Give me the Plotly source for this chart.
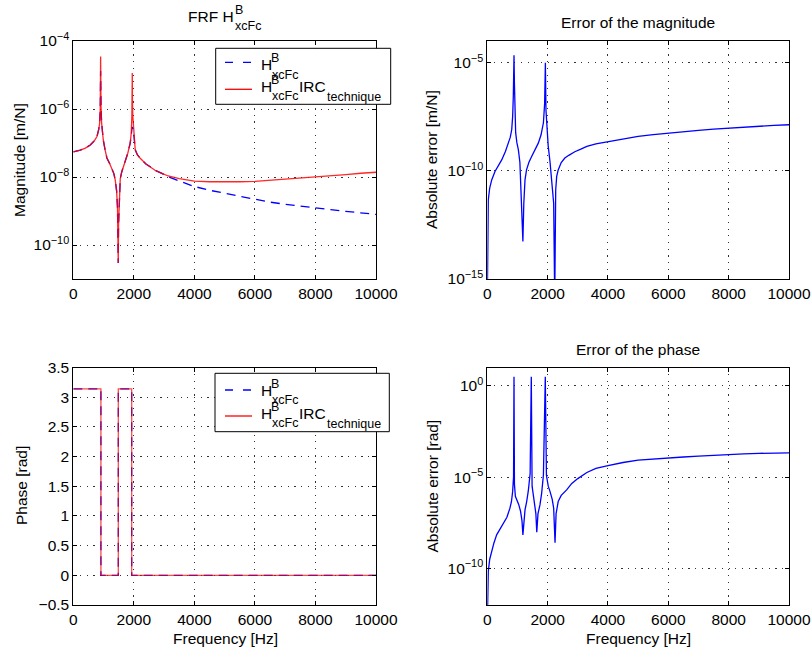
import plotly.graph_objects as go

W, H = 812, 649
FONT = "Liberation Sans, Arial, Helvetica, sans-serif"
BLUE = "#0000ff"
RED = "#ff0000"

# ---------------------------------------------------------------- data
# FRF magnitude of the full model H^B_xcFc [m/N]
freq_ref = [0, 231, 400, 561, 700, 782, 840, 870, 890, 903, 915, 935, 960,
            990, 1050, 1110, 1200, 1276, 1340, 1386, 1430, 1460, 1475, 1485,
            1495, 1510, 1530, 1551, 1600, 1716, 1800, 1881, 1915, 1935, 1947,
            1960, 2000, 2046, 2120, 2211, 2400, 2541, 2700, 2871, 3135, 3500,
            4000, 4500, 5000, 5500, 6000, 6500, 7000, 7500, 8000, 8500, 9000,
            9500, 10000]
mag_ref = [5.50e-8, 6.17e-8, 7.08e-8, 8.71e-8, 1.17e-7, 1.55e-7, 2.51e-7,
           3.80e-7, 1.0e-6, 1.3e-5, 1.26e-6, 3.98e-7, 2.24e-7, 1.23e-7,
           6.31e-8, 3.63e-8, 2.51e-8, 1.82e-8, 1.26e-8, 8.13e-9, 3.98e-9,
           1.26e-9, 3.98e-10, 2.95e-11, 3.98e-10, 1.26e-9, 3.98e-9, 8.9e-9,
           1.41e-8, 2.82e-8, 5.01e-8, 1.0e-7, 2.0e-7, 2.5e-7, 3.0e-7, 2.5e-7,
           1.78e-7, 6.31e-8, 4.47e-8, 3.55e-8, 2.40e-8, 2.0e-8, 1.58e-8,
           1.35e-8, 1.02e-8, 7.59e-9, 5.25e-9, 4.07e-9, 3.31e-9, 2.63e-9,
           2.14e-9, 1.82e-9, 1.58e-9, 1.38e-9, 1.23e-9, 1.10e-9, 9.77e-10,
           8.71e-10, 7.94e-10]

# FRF magnitude of the reduced model (IRC technique) [m/N]
freq_irc = [0, 231, 400, 561, 700, 782, 840, 870, 890, 903, 915, 935, 960,
            990, 1050, 1110, 1200, 1276, 1340, 1386, 1430, 1460, 1475, 1485,
            1495, 1510, 1530, 1551, 1600, 1716, 1800, 1881, 1915, 1935, 1942,
            1948, 1955, 1965, 1980, 2000, 2046, 2120, 2211, 2400, 2541, 2700,
            2871, 3135, 3500, 4000, 4500, 5000, 5500, 6000, 6500, 7000, 7500,
            8000, 8500, 9000, 9500, 10000]
mag_irc = [5.50e-8, 6.17e-8, 7.08e-8, 8.71e-8, 1.17e-7, 1.55e-7, 2.51e-7,
           3.80e-7, 1.0e-6, 3.5e-5, 1.26e-6, 3.98e-7, 2.24e-7, 1.23e-7,
           6.31e-8, 3.63e-8, 2.51e-8, 1.82e-8, 1.26e-8, 8.13e-9, 3.98e-9,
           1.26e-9, 3.98e-10, 2.95e-11, 3.98e-10, 1.26e-9, 3.98e-9, 8.9e-9,
           1.41e-8, 2.82e-8, 5.01e-8, 1.0e-7, 2.0e-7, 6.3e-7, 1.6e-6,
           1.15e-5, 1.6e-6, 6.3e-7, 3.55e-7, 1.78e-7, 6.31e-8, 4.47e-8,
           3.55e-8, 2.40e-8, 2.0e-8, 1.58e-8, 1.35e-8, 1.07e-8, 8.91e-9,
           7.59e-9, 7.24e-9, 7.08e-9, 7.24e-9, 7.41e-9, 7.94e-9, 8.51e-9,
           9.33e-9, 1.0e-8, 1.10e-8, 1.17e-8, 1.29e-8, 1.38e-8]

# Absolute error of the magnitude [m/N]
freq_err_mag = [0, 15, 33, 80, 146, 255, 370, 477, 600, 696, 760, 809, 840,
                862, 885, 900, 920, 940, 980, 1030, 1080, 1117, 1150, 1180,
                1210, 1250, 1300, 1380, 1470, 1580, 1690, 1780, 1860, 1900,
                1925, 1945, 1980, 2020, 2080, 2130, 2200, 2235, 2267, 2300,
                2350, 2450, 2570, 2700, 2900, 3100, 3300, 3600, 4020, 4500,
                5000, 5500, 6000, 6500, 7000, 7500, 8000, 8500, 9000, 9500,
                10000]
err_mag = [1e-16, 3.2e-13, 4.6e-12, 1.6e-11, 3.8e-11, 9.3e-11, 1.78e-10,
           3.2e-10, 7.9e-10, 1.9e-9, 3.5e-9, 7.9e-9, 3.2e-8, 2.8e-7, 2.2e-5,
           1.0e-6, 9.5e-8, 5.8e-9, 2.0e-9, 9.3e-10, 2.5e-10, 1.3e-11, 1.6e-12,
           5.4e-14, 3.2e-12, 3.8e-11, 1.1e-10, 2.5e-10, 4.6e-10, 8.9e-10,
           1.9e-9, 4.5e-9, 1.66e-8, 1.26e-7, 1.0e-5, 6.3e-8, 5.0e-9, 1.35e-9,
           2.5e-10, 3.8e-11, 3.2e-12, 1e-16, 1.3e-11, 5.5e-11, 1.1e-10,
           2.4e-10, 3.9e-10, 5.2e-10, 7.6e-10, 1.0e-9, 1.35e-9, 1.78e-9,
           2.3e-9, 3.0e-9, 3.9e-9, 4.7e-9, 5.6e-9, 6.5e-9, 7.4e-9, 8.5e-9,
           9.5e-9, 1.05e-8, 1.15e-8, 1.26e-8, 1.35e-8]

# Phase of both FRFs [rad] (step changes at resonances / antiresonance)
freq_phase = [0, 912, 1487, 1929, 10000]
phase_ref = [3.1416, 0.0, 3.1416, 0.0, 0.0]
phase_irc = [3.1416, 0.0, 3.1416, 0.0, 0.0]

# Absolute error of the phase [rad]
freq_err_ph = [0, 10, 33, 80, 145, 220, 310, 420, 530, 650, 750, 800, 840,
               870, 885, 900, 930, 975, 1040, 1100, 1150, 1180, 1210, 1250,
               1305, 1360, 1420, 1458, 1485, 1520, 1560, 1610, 1640, 1680,
               1745, 1800, 1860, 1922, 1960, 2020, 2080, 2150, 2200, 2245,
               2280, 2350, 2450, 2630, 2800, 3000, 3300, 3600, 4000, 4500,
               5000, 5500, 6000, 6500, 7000, 7500, 8000, 8500, 9000, 9500,
               10000]
err_ph = [1e-13, 1e-11, 6.9e-11, 3.2e-10, 8.5e-10, 2.5e-9, 6.9e-9, 1.4e-8,
          2.5e-8, 6.3e-8, 2.0e-7, 4.5e-7, 1.6e-6, 1.0e-5, 3.14, 4.0e-6,
          8.9e-7, 6.3e-7, 3.2e-7, 1.4e-7, 4.0e-8, 6.9e-9, 5.0e-8, 1.6e-7,
          4.6e-7, 1.8e-6, 1.6e-5, 3.14, 3.2e-6, 1.0e-6, 4.6e-7, 1.0e-7,
          9.5e-9, 1.0e-7, 3.0e-7, 1.26e-6, 1.3e-5, 3.14, 1.26e-5, 3.2e-6,
          1.6e-6, 6.3e-7, 2.0e-7, 2.6e-9, 1.0e-7, 4.6e-7, 1.0e-6, 2.0e-6,
          4.5e-6, 8.3e-6, 1.8e-5, 3.0e-5, 4.2e-5, 6.3e-5, 8.5e-5, 1.0e-4,
          1.1e-4, 1.26e-4, 1.41e-4, 1.58e-4, 1.74e-4, 1.86e-4, 2.0e-4,
          2.1e-4, 2.14e-4]

# Axis ticks
freq_ticks = [0, 2000, 4000, 6000, 8000, 10000]
mag_ticks = [1e-10, 1e-8, 1e-6, 1e-4]
mag_ticktext = ["10<sup>\u221210</sup>", "10<sup>\u22128</sup>",
                "10<sup>\u22126</sup>", "10<sup>\u22124</sup>"]
err_mag_ticks = [1e-15, 1e-10, 1e-5]
err_mag_ticktext = ["10<sup>\u221215</sup>", "10<sup>\u221210</sup>",
                    "10<sup>\u22125</sup>"]
phase_ticks = [-0.5, 0, 0.5, 1, 1.5, 2, 2.5, 3, 3.5]
err_ph_ticks = [1e-10, 1e-5, 1]
err_ph_ticktext = ["10<sup>\u221210</sup>", "10<sup>\u22125</sup>",
                   "10<sup>0</sup>"]


# ---------------------------------------------------------------- helpers
def px(x):
    return x / W


def py(y):
    return 1 - y / H


def dom_x(a, b):
    return [px(a), px(b)]


def dom_y(top, bottom):
    return [py(bottom), py(top)]


annotations = []
shapes = []


def text(x, y, s, size=15.5, xanchor="left", angle=0):
    annotations.append(dict(
        x=px(x), y=py(y), xref="paper", yref="paper", text=s,
        showarrow=False, xanchor=xanchor, yanchor="middle",
        textangle=angle, borderpad=0, borderwidth=0,
        font=dict(family=FONT, size=size, color="black")))


def h_label(x, y, tail=None):
    """H with stacked superscript B and subscript xcFc."""
    text(x, y, "H")
    text(x + 10, y - 6.8, "B", size=12.5)
    text(x + 11, y + 9.8, "xcFc", size=12.5)
    if tail:
        text(x + 38.6, y, tail[0])
        text(x + 66, y + 10.5, tail[1], size=12.5)


def legend_box(left, top, right, bottom, y_blue, y_red, y_h1, y_h2):
    shapes.append(dict(type="rect", xref="paper", yref="paper",
                       x0=px(left), x1=px(right), y0=py(bottom), y1=py(top),
                       fillcolor="white", line=dict(color="black", width=1),
                       layer="above"))
    shapes.append(dict(type="line", xref="paper", yref="paper",
                       x0=px(225), x1=px(252), y0=py(y_blue), y1=py(y_blue),
                       line=dict(color=BLUE, width=1.3, dash="8px,10px"),
                       layer="above"))
    shapes.append(dict(type="line", xref="paper", yref="paper",
                       x0=px(225), x1=px(252), y0=py(y_red), y1=py(y_red),
                       line=dict(color=RED, width=1.3), layer="above"))
    h_label(260.7, y_h1)
    h_label(260.7, y_h2, tail=("IRC", "technique"))


# ---------------------------------------------------------------- traces
fig = go.Figure()

fig.add_trace(go.Scatter(x=freq_ref, y=mag_ref, mode="lines",
                         line=dict(color=BLUE, width=1.3, dash="9px,6px"),
                         xaxis="x", yaxis="y", showlegend=False))
fig.add_trace(go.Scatter(x=freq_irc, y=mag_irc, mode="lines", opacity=0.85,
                         line=dict(color=RED, width=1.3),
                         xaxis="x", yaxis="y", showlegend=False))

fig.add_trace(go.Scatter(x=freq_err_mag, y=err_mag, mode="lines",
                         line=dict(color=BLUE, width=1.3),
                         xaxis="x2", yaxis="y2", showlegend=False))

fig.add_trace(go.Scatter(x=freq_phase, y=phase_ref, mode="lines",
                         line=dict(color=BLUE, width=1.3, dash="9px,6px",
                                   shape="hv"),
                         xaxis="x3", yaxis="y3", showlegend=False))
fig.add_trace(go.Scatter(x=freq_phase, y=phase_irc, mode="lines", opacity=0.7,
                         line=dict(color=RED, width=1.3, shape="hv"),
                         xaxis="x3", yaxis="y3", showlegend=False))

fig.add_trace(go.Scatter(x=freq_err_ph, y=err_ph, mode="lines",
                         line=dict(color=BLUE, width=1.3),
                         xaxis="x4", yaxis="y4", showlegend=False))

# ---------------------------------------------------------------- axes
common = dict(showline=True, linecolor="black", linewidth=1, mirror="ticks",
              ticks="inside", ticklen=4, tickcolor="black", tickwidth=1,
              showgrid=True, gridcolor="rgba(0,0,0,0.8)", gridwidth=1,
              griddash="1.2px,5.5px", zeroline=False,
              tickfont=dict(family=FONT, size=15.5, color="black"))

xcommon = dict(common, range=[0, 10000], tickmode="array",
               tickvals=freq_ticks, ticktext=[str(v) for v in freq_ticks])

L0, L1 = 73.3, 376.0
R0, R1 = 487.3, 789.0
T0, T1 = 41.0, 279.0
B0, B1 = 367.5, 605.0

fig.update_layout(
    width=W, height=H,
    margin=dict(l=0, r=0, t=0, b=0, autoexpand=False),
    paper_bgcolor="white", plot_bgcolor="white",
    showlegend=False,
    xaxis=dict(xcommon, domain=dom_x(L0, L1), anchor="y"),
    yaxis=dict(common, domain=dom_y(T0, T1), anchor="x", type="log",
               range=[-11, -4], tickmode="array", tickvals=mag_ticks,
               ticktext=mag_ticktext),
    xaxis2=dict(xcommon, domain=dom_x(R0, R1), anchor="y2"),
    yaxis2=dict(common, domain=dom_y(T0, T1), anchor="x2", type="log",
                range=[-15, -4], tickmode="array", tickvals=err_mag_ticks,
                ticktext=err_mag_ticktext),
    xaxis3=dict(xcommon, domain=dom_x(L0, L1), anchor="y3"),
    yaxis3=dict(common, domain=dom_y(B0, B1), anchor="x3",
                range=[-0.5, 3.5], tickmode="array", tickvals=phase_ticks),
    xaxis4=dict(xcommon, domain=dom_x(R0, R1), anchor="y4"),
    yaxis4=dict(common, domain=dom_y(B0, B1), anchor="x4", type="log",
                range=[-12, 1], tickmode="array", tickvals=err_ph_ticks,
                ticktext=err_ph_ticktext),
)

# ---------------------------------------------------------------- titles and labels
text(188.3, 17, "FRF H")
text(235, 10, "B", size=12.5)
text(235, 26, "xcFc", size=12.5)
text(638, 23, "Error of the magnitude", xanchor="center")
text(638, 349, "Error of the phase", xanchor="center")

text(19, 160, "Magnitude [m/N]", xanchor="center", angle=-90)
text(431, 160, "Absolute error [m/N]", xanchor="center", angle=-90)
text(21, 486, "Phase [rad]", xanchor="center", angle=-90)
text(431.5, 486, "Absolute error [rad]", xanchor="center", angle=-90)
text(225, 638.5, "Frequency [Hz]", xanchor="center")
text(638, 638.5, "Frequency [Hz]", xanchor="center")

# ---------------------------------------------------------------- legends
legend_box(215.7, 48.3, 390.7, 104.3, 62.3, 89.3, 64.7, 86.3)
legend_box(215.0, 373.3, 389.3, 431.7, 390.0, 416.0, 390.5, 413.5)

fig.update_layout(annotations=annotations, shapes=shapes)

fig.write_html("out.html")
